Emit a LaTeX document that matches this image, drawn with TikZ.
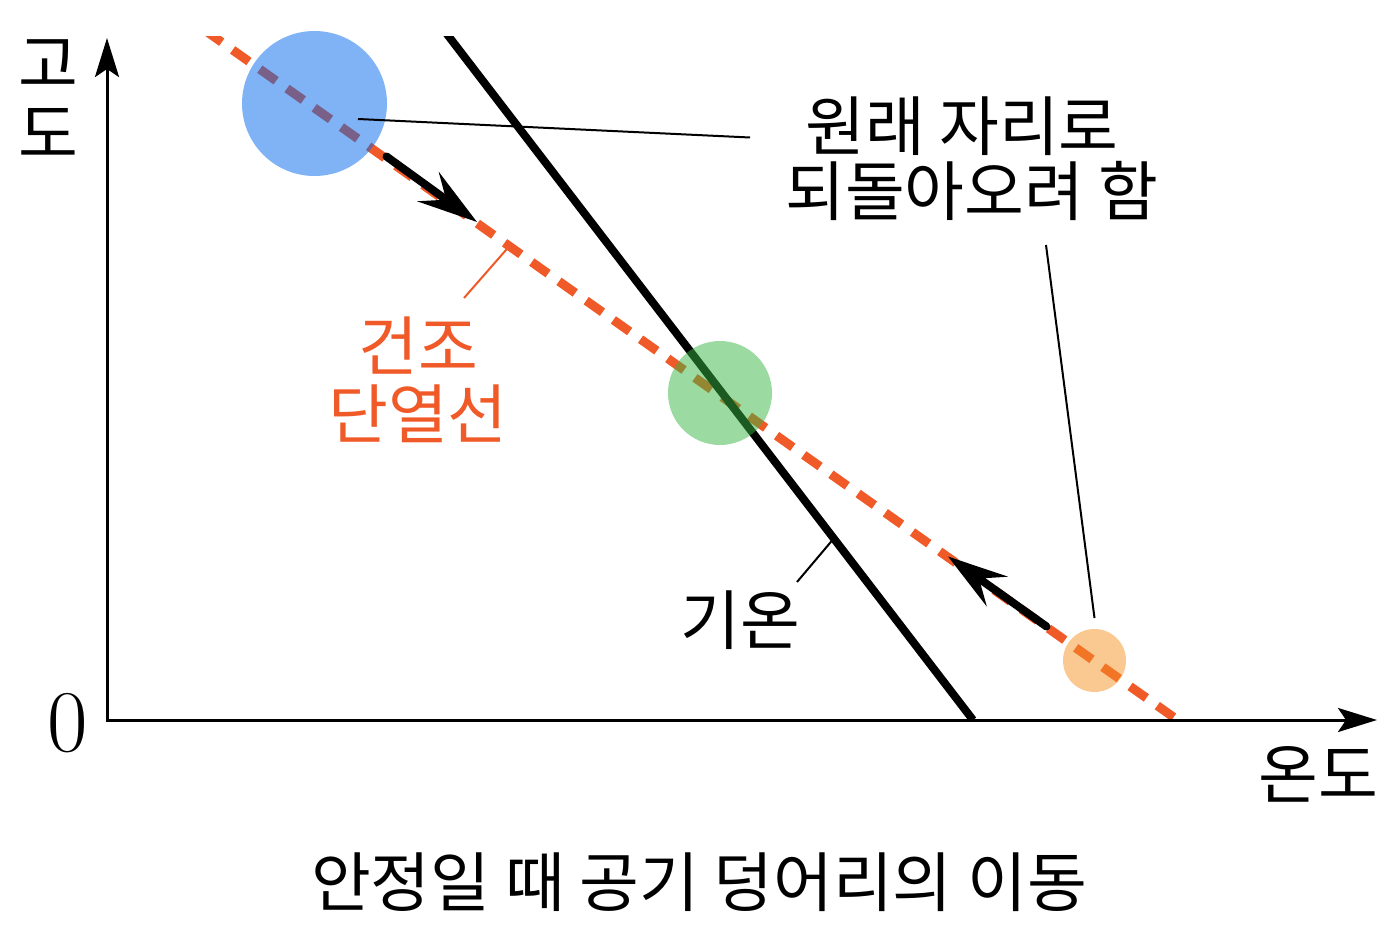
\documentclass[tikz,border=0pt]{standalone}
\usepackage{fontspec}
\newfontfamily\kr{Noto Sans CJK KR}
\usetikzlibrary{arrows.meta}
\definecolor{dal}{RGB}{240,90,40}
\definecolor{pblue}{RGB}{1,103,235}
\definecolor{pgreen}{RGB}{55,181,65}
\definecolor{porange}{RGB}{245,145,35}
\begin{document}
\begin{tikzpicture}[x=1pt,y=-1pt,
  txt/.style={font=\kr\fontsize{65}{75}\selectfont, inner sep=0pt},
  axis/.style={line width=3pt, {Stealth[length=39pt,width=24pt,inset=8pt]}-{Stealth[length=39pt,width=24pt,inset=8pt]}},
  move/.style={line width=8pt, line cap=round, -{Stealth[length=60pt,width=36pt,inset=22pt]}},
  parcel/.style={fill opacity=0.5, draw=none},
  leader/.style={line width=2pt},
  adiab/.style={line width=9pt, dal, dash pattern=on 20pt off 13.34pt, dash phase=24.34pt},
  temp/.style={line width=8pt, black}
]
\useasboundingbox (0,0) rectangle (1398,931);

% coordinates
\coordinate (o) at (107,720);
\coordinate (ytop) at (107,38);
\coordinate (xend) at (1377,720);
\coordinate (dA) at ({214.4-20*0.8157},{37-20*0.5785});
\coordinate (dB) at (1177.5,720);
\coordinate (tA) at ({450-0.611*10},{38-0.791*10});
\coordinate (tB) at (973,720);

\begin{scope}
  \clip (0,37) rectangle (1398,720);
  \draw[adiab] (dA) -- (dB);
  \draw[temp] (tA) -- (tB);
\end{scope}

% axes
\draw[axis] (ytop) -- (o) -- (xend);

% parcels
\fill[parcel, pblue] (314.5,103.5) circle (72.5pt);
\fill[parcel, pgreen] (720,393) circle (52pt);
\fill[parcel, porange] (1094.5,660.5) circle (31.5pt);

% movement arrows
\coordinate (m1a) at (386.5,156.5);
\coordinate (m1b) at (477,222);
\coordinate (m2a) at (1046.5,626.5);
\coordinate (m2b) at (948,556.5);
\draw[move] (m1a) -- (m1b);
\draw[move] (m2a) -- (m2b);

% labels
\node[txt] (g1) at (48,64) {고};
\node[txt] (g2) at (48,133) {도};
\node[inner sep=0pt, font=\fontsize{88}{88}\selectfont] (zero) at (68,723) {0};
\node[txt] (on) at (1318,774) {온도};
\node[txt] (r1) at (962,126) {원래 자리로};
\node[txt] (r2) at (972,191) {되돌아오려 함};
\node[txt, text=dal] (k1) at (418,346) {건조};
\node[txt, text=dal] (k2) at (418,414) {단열선};
\node[txt] (gi) at (740,620) {기온};
\node[txt] (cap) at (699,882) {안정일 때 공기 덩어리의 이동};

% leaders
\coordinate (l1a) at (358,119);
\coordinate (l1b) at (750,137.5);
\coordinate (l2a) at (1046,245);
\coordinate (l2b) at (1094.5,618);
\coordinate (l3a) at (464,298);
\coordinate (l3b) at (509.5,246);
\coordinate (l4a) at (797,582);
\coordinate (l4b) at (832.5,540);
\draw[leader] (l1a) -- (l1b);
\draw[leader] (l2a) -- (l2b);
\draw[leader, dal] (l3a) -- (l3b);
\draw[leader] (l4a) -- (l4b);
\end{tikzpicture}
\end{document}
